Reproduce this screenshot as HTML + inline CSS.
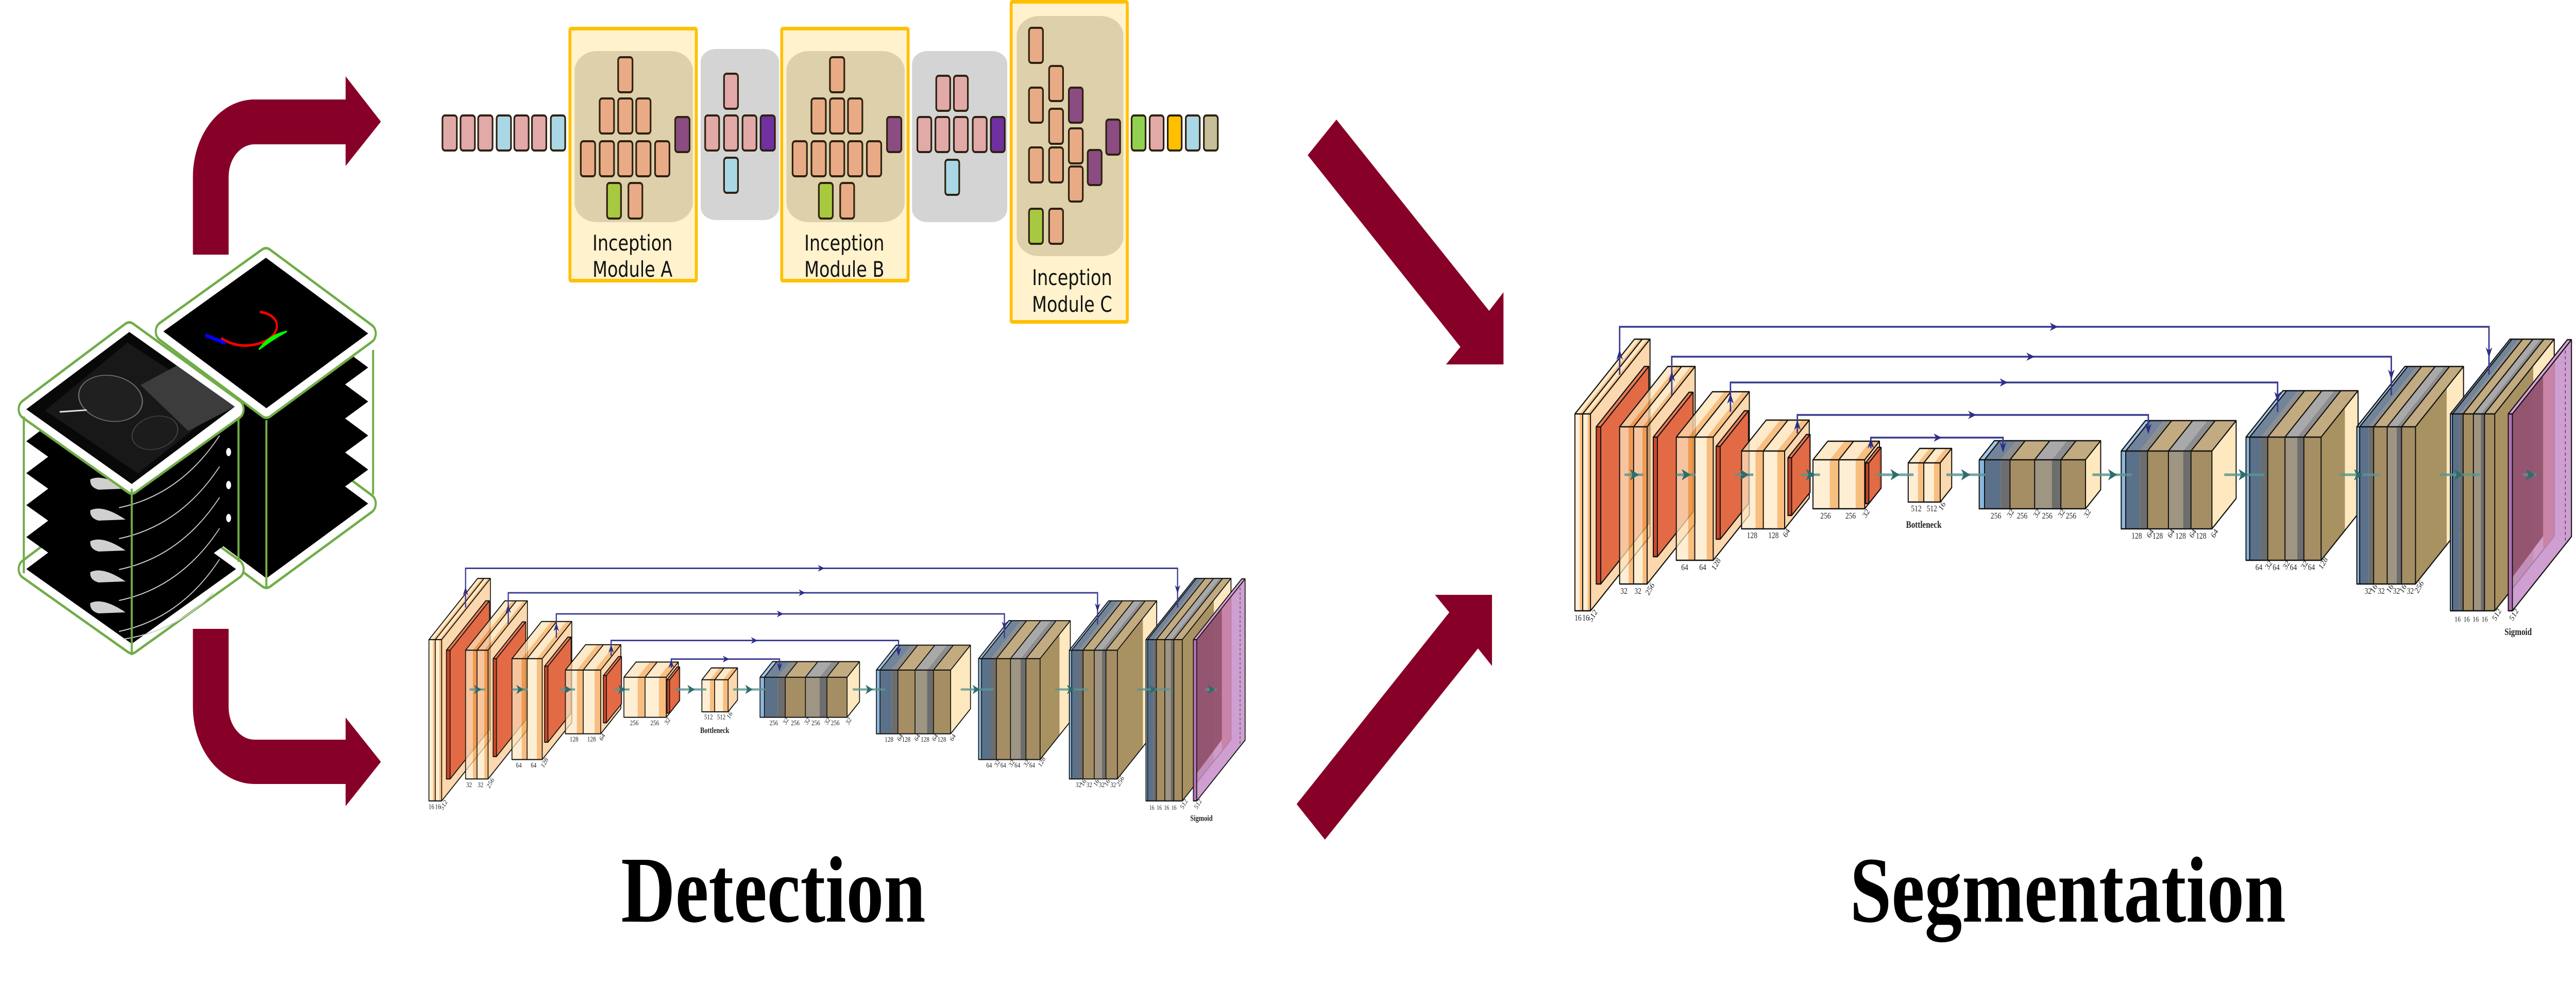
<!DOCTYPE html>
<html>
<head>
<meta charset="utf-8">
<style>
html,body{margin:0;padding:0;background:#fff;width:100%;height:100%;overflow:hidden;}
svg{display:block;width:100vw;height:100vh;position:absolute;left:0;top:0;}
.b{stroke:#2e2210;stroke-width:4;}
.pk{fill:#e2a9a9}.lb{fill:#a9d7e5}.tn{fill:#e9ab86}.gr{fill:#a7c940}.pu{fill:#8b4c82}.vi{fill:#7030a0}.gn{fill:#92d050}.yl{fill:#ffc000}.kh{fill:#c5be98}
.fc{fill:#fde7c3;fill-opacity:.72}.fo{fill:#f6a854;fill-opacity:.75}
.tc{fill:#fde2b5;fill-opacity:.75}.to{fill:#f6a955;fill-opacity:.75}
.s{fill:#f9c88a;fill-opacity:.7}
.ps{fill:#e0623c;fill-opacity:.92}.pt{fill:#e87c58}.pf{fill:#c9482b}
.ol{fill:none;stroke:#111;stroke-width:2.5;stroke-linejoin:round}
.lbF{fill:#8cb6dc}.slF{fill:#5b7189}.dgF{fill:#6d6d6d}.tnF{fill:#a58e63}.gyF{fill:#9e9582}
.lbT{fill:#a3c6e6}.slT{fill:#71849a}.dgT{fill:#8e8e8e}.tnT{fill:#c2ab80}.gyT{fill:#a9a9a9}
.cr{fill:#fde8bf}.ts{fill:#a99262}
.nh{fill:#2e2e88}.th{fill:#2d6d6b}
</style>
</head>
<body>
<svg xmlns="http://www.w3.org/2000/svg" width="6276" height="1942" viewBox="0 0 6276 1942" preserveAspectRatio="none">
<rect width="6276" height="1942" fill="#fff"/>

<!-- ================= CUBES ================= -->
<g>
<polygon points="398,973 648,830 897,977 649,1122" fill="#fff" stroke="#70ad47" stroke-width="42" stroke-linejoin="round"/>
<polygon points="398,973 648,830 897,977 649,1122" fill="#fff" stroke="#fff" stroke-width="32" stroke-linejoin="round"/>
<g fill="#000">
<polygon points="398,973 648,830 897,977 649,1122"/>
<polygon points="398,907 648,764 897,911 649,1056"/>
<polygon points="398,841 648,698 897,845 649,990"/>
<polygon points="398,775 648,632 897,779 649,924"/>
<polygon points="398,709 648,566 897,713 649,858"/>
</g>
<polygon points="398,643 648,500 897,647 649,792" fill="#fff" stroke="#70ad47" stroke-width="42" stroke-linejoin="round"/>
<polygon points="398,643 648,500 897,647 649,792" fill="#fff" stroke="#fff" stroke-width="32" stroke-linejoin="round"/>
<polygon points="398,643 648,500 897,647 649,792" fill="#000"/>
<path d="M633,605 C690,612 685,650 640,664 C600,676 565,670 539,656" fill="none" stroke="#ff0000" stroke-width="5"/>
<path d="M503,651 L546,665" stroke="#0000ff" stroke-width="7" stroke-linecap="round"/>
<path d="M631,678 Q655,650 699,643 Q668,656 631,678Z" fill="#00ff00" stroke="#00ff00" stroke-width="3"/>
<g stroke="#70ad47" stroke-width="5">
<line x1="649" y1="815" x2="649" y2="1141"/>
<line x1="909" y1="679" x2="909" y2="959"/>
</g>
</g>

<g>
<polygon points="64,1104 315,954 575,1104 321,1249" fill="#fff" stroke="#70ad47" stroke-width="42" stroke-linejoin="round"/>
<polygon points="64,1104 315,954 575,1104 321,1249" fill="#fff" stroke="#fff" stroke-width="32" stroke-linejoin="round"/>
<g fill="#000">
<polygon points="64,1104 315,954 575,1104 321,1249"/>
<polygon points="64,1042 315,892 575,1042 321,1187"/>
<polygon points="64,980 315,830 575,980 321,1125"/>
<polygon points="64,918 315,768 575,918 321,1063"/>
<polygon points="64,856 315,706 575,856 321,1001"/>
</g>
<g fill="none" stroke="#cfcfcf" stroke-width="2">
<path d="M290,1225 Q440,1200 535,1085"/>
<path d="M290,1165 Q440,1140 535,1025"/>
<path d="M290,1105 Q440,1080 535,965"/>
<path d="M290,1045 Q440,1020 535,905"/>
<path d="M290,985 Q440,960 535,845"/>
<path d="M300,1240 Q430,1225 520,1150"/>
</g>
<g fill="#d0d0d0">
<path d="M220,930 Q250,918 306,948 L240,950 Q218,945 220,930Z"/>
<path d="M220,990 Q250,978 306,1008 L240,1010 Q218,1005 220,990Z"/>
<path d="M220,1050 Q250,1038 306,1068 L240,1070 Q218,1065 220,1050Z"/>
<path d="M220,1110 Q250,1098 306,1128 L240,1130 Q218,1125 220,1110Z"/>
<path d="M220,1170 Q250,1158 306,1188 L240,1190 Q218,1185 220,1170Z"/>
</g>
<g fill="#fff">
<ellipse cx="557" cy="877" rx="6" ry="8"/>
<ellipse cx="557" cy="941" rx="6" ry="8"/>
<ellipse cx="557" cy="1005" rx="6" ry="8"/>
</g>
<polygon points="64,794 315,644 575,794 321,939" fill="#fff" stroke="#70ad47" stroke-width="42" stroke-linejoin="round"/>
<polygon points="64,794 315,644 575,794 321,939" fill="#fff" stroke="#fff" stroke-width="32" stroke-linejoin="round"/>
<g transform="matrix(2.51,-1.5,2.57,1.45,64,794)">
<rect width="100" height="100" fill="#080808"/>
<path d="M8,10 L92,6 L96,94 L10,96 Z" fill="#181818"/>
<path d="M70,40 L100,45 L100,100 L62,93 Z" fill="#3c3c3c"/>
<ellipse cx="47" cy="34" rx="20" ry="23" fill="#202020" stroke="#6e6e6e" stroke-width="0.8"/>
<ellipse cx="45" cy="78" rx="17" ry="14" fill="#1c1c1c" stroke="#4a4a4a" stroke-width="0.6"/>
<path d="M14,18 L28,30" stroke="#ddd" stroke-width="1.5"/>
</g>
<g stroke="#70ad47" stroke-width="5">
<line x1="58" y1="808" x2="58" y2="1112"/>
<line x1="321" y1="948" x2="321" y2="1271"/>
<line x1="581" y1="810" x2="581" y2="1090"/>
</g>
</g>

<!-- ================= MAROON ARROWS ================= -->
<g fill="#870028">
<path d="M470,494 V343 A150,150 0 0 1 620,193 H842 V148 L928,236 L842,322 V280 H620 A63,63 0 0 0 557,343 V494 Z"/>
<path d="M470,1220 V1371 A150,150 0 0 0 620,1521 H842 V1564 L928,1478 L842,1392 V1435 H620 A63,63 0 0 1 557,1372 V1220 Z"/>
<polygon points="3256,232 3628,603 3663,567 3663,707 3523,707 3558,673 3186,301"/>
<polygon points="3159,1560 3531,1188 3496,1154 3635,1154 3635,1292 3601,1258 3228,1629"/>
</g>

<!-- ================= INCEPTION ================= -->
<g>
<rect class="b pk" x="1078" y="224" width="35" height="68" rx="6"/>
<rect class="b pk" x="1122" y="224" width="35" height="68" rx="6"/>
<rect class="b pk" x="1165" y="224" width="35" height="68" rx="6"/>
<rect class="b lb" x="1210" y="224" width="35" height="68" rx="6"/>
<rect class="b pk" x="1253" y="224" width="35" height="68" rx="6"/>
<rect class="b pk" x="1296" y="224" width="35" height="68" rx="6"/>
<rect class="b lb" x="1342" y="224" width="35" height="68" rx="6"/>

<rect x="1388.5" y="55.5" width="308" height="489" rx="3" fill="#fff2cc" stroke="#ffc000" stroke-width="7"/>
<rect x="1400" y="99" width="288" height="332" rx="55" ry="38" fill="#ddd0aa"/>
<rect class="b tn" x="1506" y="111" width="35" height="68" rx="6"/>
<rect class="b tn" x="1461" y="191" width="35" height="68" rx="6"/>
<rect class="b tn" x="1506" y="191" width="35" height="68" rx="6"/>
<rect class="b tn" x="1550" y="191" width="35" height="68" rx="6"/>
<rect class="b tn" x="1415" y="274" width="35" height="68" rx="6"/>
<rect class="b tn" x="1461" y="274" width="35" height="68" rx="6"/>
<rect class="b tn" x="1506" y="274" width="35" height="68" rx="6"/>
<rect class="b tn" x="1550" y="274" width="35" height="68" rx="6"/>
<rect class="b tn" x="1596" y="274" width="35" height="68" rx="6"/>
<rect class="b gr" x="1479" y="355" width="34" height="69" rx="6"/>
<rect class="b tn" x="1531" y="355" width="34" height="69" rx="6"/>
<rect class="b pu" x="1645" y="227" width="35" height="68" rx="6"/>
<text x="1541" y="486" font-family="DejaVu Sans, sans-serif" font-size="42" text-anchor="middle" fill="#111">Inception</text>
<text x="1541" y="537" font-family="DejaVu Sans, sans-serif" font-size="42" text-anchor="middle" fill="#111">Module A</text>

<rect x="1707" y="95" width="191" height="332" rx="38" ry="25" fill="#d4d4d4"/>
<rect class="b pk" x="1764" y="143" width="34" height="68" rx="6"/>
<rect class="b pk" x="1718" y="224" width="34" height="68" rx="6"/>
<rect class="b pk" x="1764" y="224" width="34" height="68" rx="6"/>
<rect class="b pk" x="1809" y="224" width="34" height="68" rx="6"/>
<rect class="b vi" x="1853" y="224" width="35" height="68" rx="6"/>
<rect class="b lb" x="1764" y="306" width="34" height="68" rx="6"/>

<rect x="1904.5" y="55.5" width="308" height="489" rx="3" fill="#fff2cc" stroke="#ffc000" stroke-width="7"/>
<rect x="1916" y="99" width="288" height="332" rx="55" ry="38" fill="#ddd0aa"/>
<rect class="b tn" x="2022" y="111" width="35" height="68" rx="6"/>
<rect class="b tn" x="1977" y="191" width="35" height="68" rx="6"/>
<rect class="b tn" x="2022" y="191" width="35" height="68" rx="6"/>
<rect class="b tn" x="2066" y="191" width="35" height="68" rx="6"/>
<rect class="b tn" x="1931" y="274" width="35" height="68" rx="6"/>
<rect class="b tn" x="1977" y="274" width="35" height="68" rx="6"/>
<rect class="b tn" x="2022" y="274" width="35" height="68" rx="6"/>
<rect class="b tn" x="2066" y="274" width="35" height="68" rx="6"/>
<rect class="b tn" x="2112" y="274" width="35" height="68" rx="6"/>
<rect class="b gr" x="1995" y="355" width="34" height="69" rx="6"/>
<rect class="b tn" x="2047" y="355" width="34" height="69" rx="6"/>
<rect class="b pu" x="2161" y="227" width="35" height="68" rx="6"/>
<text x="2057" y="486" font-family="DejaVu Sans, sans-serif" font-size="42" text-anchor="middle" fill="#111">Inception</text>
<text x="2057" y="537" font-family="DejaVu Sans, sans-serif" font-size="42" text-anchor="middle" fill="#111">Module B</text>

<rect x="2222" y="99" width="232" height="332" rx="38" ry="25" fill="#d4d4d4"/>
<rect class="b pk" x="2281" y="147" width="34" height="68" rx="6"/>
<rect class="b pk" x="2324" y="147" width="34" height="68" rx="6"/>
<rect class="b pk" x="2235" y="227" width="34" height="68" rx="6"/>
<rect class="b pk" x="2279" y="227" width="34" height="68" rx="6"/>
<rect class="b pk" x="2324" y="227" width="34" height="68" rx="6"/>
<rect class="b pk" x="2370" y="227" width="34" height="68" rx="6"/>
<rect class="b vi" x="2414" y="227" width="34" height="68" rx="6"/>
<rect class="b lb" x="2303" y="310" width="34" height="68" rx="6"/>

<rect x="2463.5" y="3.5" width="283" height="621" rx="3" fill="#fff2cc" stroke="#ffc000" stroke-width="7"/>
<rect x="2477" y="31" width="260" height="466" rx="55" ry="38" fill="#ddd0aa"/>
<rect class="b tn" x="2507" y="54" width="34" height="68" rx="6"/>
<rect class="b tn" x="2507" y="170" width="34" height="68" rx="6"/>
<rect class="b tn" x="2507" y="286" width="34" height="68" rx="6"/>
<rect class="b gr" x="2507" y="405" width="34" height="68" rx="6"/>
<rect class="b tn" x="2556" y="128" width="34" height="68" rx="6"/>
<rect class="b tn" x="2556" y="211" width="34" height="68" rx="6"/>
<rect class="b tn" x="2556" y="286" width="34" height="68" rx="6"/>
<rect class="b tn" x="2556" y="405" width="34" height="68" rx="6"/>
<rect class="b pu" x="2604" y="170" width="34" height="68" rx="6"/>
<rect class="b tn" x="2604" y="249" width="34" height="68" rx="6"/>
<rect class="b tn" x="2604" y="323" width="34" height="68" rx="6"/>
<rect class="b pu" x="2650" y="291" width="34" height="68" rx="6"/>
<rect class="b pu" x="2695" y="232" width="34" height="68" rx="6"/>
<text x="2612" y="553" font-family="DejaVu Sans, sans-serif" font-size="42" text-anchor="middle" fill="#111">Inception</text>
<text x="2612" y="605" font-family="DejaVu Sans, sans-serif" font-size="42" text-anchor="middle" fill="#111">Module C</text>

<rect class="b gn" x="2757" y="224" width="34" height="68" rx="6"/>
<rect class="b pk" x="2801" y="224" width="34" height="68" rx="6"/>
<rect class="b yl" x="2845" y="224" width="34" height="68" rx="6"/>
<rect class="b lb" x="2889" y="224" width="34" height="68" rx="6"/>
<rect class="b kh" x="2933" y="224" width="34" height="68" rx="6"/>
</g>

<!-- ================= U-NET (right, full size) ================= -->
<g id="unet">
<polygon class="s" points="3875,803 4020,658 4020,1040 3875,1185"/>
<polygon class="tc" points="3837,803 3849,803 3994,658 3982,658"/>
<polygon class="to" points="3849,803 3856,803 4001,658 3994,658"/>
<polygon class="tc" points="3856,803 3868,803 4013,658 4001,658"/>
<polygon class="to" points="3868,803 3875,803 4020,658 4013,658"/>
<rect class="fc" x="3837" y="803" width="12" height="382"/>
<rect class="fo" x="3849" y="803" width="7" height="382"/>
<rect class="fc" x="3856" y="803" width="12" height="382"/>
<rect class="fo" x="3868" y="803" width="7" height="382"/>
<path class="ol" d="M3837,803 H3875 V1185 H3837 Z M3837,803 L3982,658 H4020 L3875,803 M4020,658 V1040 L3875,1185 M3856,803 V1185 M3856,803 L4001,658"/>
<polygon class="ps" points="3900,828 4017,711 4017,1016 3900,1133"/>
<polygon class="pt" points="3889,828 3900,828 4017,711 4006,711"/>
<rect class="pf" x="3889" y="828" width="11" height="305"/>
<path class="ol" d="M3889,828 H3900 V1133 H3889 Z M3889,828 L4006,711 H4017 L3900,828 M4017,711 V1016 L3900,1133"/>
<polygon class="s" points="4013,828 4130,711 4130,1016 4013,1133"/>
<polygon class="tc" points="3946,828 3968,828 4085,711 4063,711"/>
<polygon class="to" points="3968,828 3980,828 4097,711 4085,711"/>
<polygon class="tc" points="3980,828 4002,828 4119,711 4097,711"/>
<polygon class="to" points="4002,828 4013,828 4130,711 4119,711"/>
<rect class="fc" x="3946" y="828" width="22" height="305"/>
<rect class="fo" x="3968" y="828" width="12" height="305"/>
<rect class="fc" x="3980" y="828" width="22" height="305"/>
<rect class="fo" x="4002" y="828" width="11" height="305"/>
<path class="ol" d="M3946,828 H4013 V1133 H3946 Z M3946,828 L4063,711 H4130 L4013,828 M4130,711 V1016 L4013,1133 M3980,828 V1133 M3980,828 L4097,711"/>
<polygon class="ps" points="4038,848 4125,761 4125,993 4038,1080"/>
<polygon class="pt" points="4028,848 4038,848 4125,761 4115,761"/>
<rect class="pf" x="4028" y="848" width="10" height="232"/>
<path class="ol" d="M4028,848 H4038 V1080 H4028 Z M4028,848 L4115,761 H4125 L4038,848 M4125,761 V993 L4038,1080"/>
<polygon class="s" points="4174,848 4262,760 4262,999 4174,1087"/>
<polygon class="tc" points="4084,848 4113,848 4201,760 4172,760"/>
<polygon class="to" points="4113,848 4129,848 4217,760 4201,760"/>
<polygon class="tc" points="4129,848 4158,848 4246,760 4217,760"/>
<polygon class="to" points="4158,848 4174,848 4262,760 4246,760"/>
<rect class="fc" x="4084" y="848" width="29" height="239"/>
<rect class="fo" x="4113" y="848" width="16" height="239"/>
<rect class="fc" x="4129" y="848" width="29" height="239"/>
<rect class="fo" x="4158" y="848" width="16" height="239"/>
<path class="ol" d="M4084,848 H4174 V1087 H4084 Z M4084,848 L4172,760 H4262 L4174,848 M4262,760 V999 L4174,1087 M4129,848 V1087 M4129,848 L4217,760"/>
<polygon class="ps" points="4191,866 4260,797 4260,977 4191,1046"/>
<polygon class="pt" points="4181,866 4191,866 4260,797 4250,797"/>
<rect class="pf" x="4181" y="866" width="10" height="180"/>
<path class="ol" d="M4181,866 H4191 V1046 H4181 Z M4181,866 L4250,797 H4260 L4191,866 M4260,797 V977 L4191,1046"/>
<polygon class="s" points="4348,875 4408,815 4408,966 4348,1026"/>
<polygon class="tc" points="4243,875 4277,875 4337,815 4303,815"/>
<polygon class="to" points="4277,875 4296,875 4356,815 4337,815"/>
<polygon class="tc" points="4296,875 4330,875 4390,815 4356,815"/>
<polygon class="to" points="4330,875 4348,875 4408,815 4390,815"/>
<rect class="fc" x="4243" y="875" width="34" height="151"/>
<rect class="fo" x="4277" y="875" width="19" height="151"/>
<rect class="fc" x="4296" y="875" width="34" height="151"/>
<rect class="fo" x="4330" y="875" width="18" height="151"/>
<path class="ol" d="M4243,875 H4348 V1026 H4243 Z M4243,875 L4303,815 H4408 L4348,875 M4408,815 V966 L4348,1026 M4296,875 V1026 M4296,875 L4356,815"/>
<polygon class="ps" points="4365,888 4410,843 4410,955 4365,1000"/>
<polygon class="pt" points="4356,888 4365,888 4410,843 4401,843"/>
<rect class="pf" x="4356" y="888" width="9" height="112"/>
<path class="ol" d="M4356,888 H4365 V1000 H4356 Z M4356,888 L4401,843 H4410 L4365,888 M4410,843 V955 L4365,1000"/>
<polygon class="s" points="4543,892 4579,856 4579,951 4543,987"/>
<polygon class="tc" points="4417,892 4458,892 4494,856 4453,856"/>
<polygon class="to" points="4458,892 4480,892 4516,856 4494,856"/>
<polygon class="tc" points="4480,892 4521,892 4557,856 4516,856"/>
<polygon class="to" points="4521,892 4543,892 4579,856 4557,856"/>
<rect class="fc" x="4417" y="892" width="41" height="95"/>
<rect class="fo" x="4458" y="892" width="22" height="95"/>
<rect class="fc" x="4480" y="892" width="41" height="95"/>
<rect class="fo" x="4521" y="892" width="22" height="95"/>
<path class="ol" d="M4417,892 H4543 V987 H4417 Z M4417,892 L4453,856 H4579 L4543,892 M4579,856 V951 L4543,987 M4480,892 V987 M4480,892 L4516,856"/>
<polygon class="ps" points="4553,898 4583,868 4583,947 4553,977"/>
<polygon class="pt" points="4545,898 4553,898 4583,868 4575,868"/>
<rect class="pf" x="4545" y="898" width="8" height="79"/>
<path class="ol" d="M4545,898 H4553 V977 H4545 Z M4545,898 L4575,868 H4583 L4553,898 M4583,868 V947 L4553,977"/>
<polygon class="s" points="4727,898 4755,870 4755,946 4727,974"/>
<polygon class="tc" points="4649,898 4673,898 4701,870 4677,870"/>
<polygon class="to" points="4673,898 4687,898 4715,870 4701,870"/>
<polygon class="tc" points="4687,898 4712,898 4740,870 4715,870"/>
<polygon class="to" points="4712,898 4727,898 4755,870 4740,870"/>
<rect class="fc" x="4649" y="898" width="24" height="76"/>
<rect class="fo" x="4673" y="898" width="14" height="76"/>
<rect class="fc" x="4687" y="898" width="25" height="76"/>
<rect class="fo" x="4712" y="898" width="15" height="76"/>
<path class="ol" d="M4649,898 H4727 V974 H4649 Z M4649,898 L4677,870 H4755 L4727,898 M4755,870 V946 L4727,974 M4687,898 V974 M4687,898 L4715,870"/>

<polygon class="cr" points="5081,892 5118,855 5118,950 5081,987"/>
<polygon class="lbT" points="4822,892 4835,892 4872,855 4859,855"/>
<polygon class="slT" points="4835,892 4875,892 4912,855 4872,855"/>
<polygon class="dgT" points="4875,892 4897,892 4934,855 4912,855"/>
<polygon class="tnT" points="4897,892 4957,892 4994,855 4934,855"/>
<polygon class="gyT" points="4957,892 4999,892 5036,855 4994,855"/>
<polygon class="dgT" points="4999,892 5021,892 5058,855 5036,855"/>
<polygon class="tnT" points="5021,892 5081,892 5118,855 5058,855"/>
<rect class="lbF" x="4822" y="892" width="13" height="95"/>
<rect class="slF" x="4835" y="892" width="40" height="95"/>
<rect class="dgF" x="4875" y="892" width="22" height="95"/>
<rect class="tnF" x="4897" y="892" width="60" height="95"/>
<rect class="gyF" x="4957" y="892" width="42" height="95"/>
<rect class="dgF" x="4999" y="892" width="22" height="95"/>
<rect class="tnF" x="5021" y="892" width="60" height="95"/>
<path class="ol" d="M4822,892 H5081 V987 H4822 Z M4822,892 L4859,855 H5118 L5081,892 M5118,855 V950 L5081,987 M4835,892 V987 M4835,892 L4872,855 M4897,892 V987 M4897,892 L4934,855 M4957,892 V987 M4957,892 L4994,855 M5021,892 V987 M5021,892 L5058,855"/>
<polygon class="cr" points="5389,875 5448,816 5448,967 5389,1026"/>
<polygon class="lbT" points="5168,875 5179,875 5238,816 5227,816"/>
<polygon class="slT" points="5179,875 5213,875 5272,816 5238,816"/>
<polygon class="dgT" points="5213,875 5232,875 5291,816 5272,816"/>
<polygon class="tnT" points="5232,875 5283,875 5342,816 5291,816"/>
<polygon class="gyT" points="5283,875 5319,875 5378,816 5342,816"/>
<polygon class="dgT" points="5319,875 5338,875 5397,816 5378,816"/>
<polygon class="tnT" points="5338,875 5389,875 5448,816 5397,816"/>
<rect class="lbF" x="5168" y="875" width="11" height="151"/>
<rect class="slF" x="5179" y="875" width="34" height="151"/>
<rect class="dgF" x="5213" y="875" width="19" height="151"/>
<rect class="tnF" x="5232" y="875" width="51" height="151"/>
<rect class="gyF" x="5283" y="875" width="36" height="151"/>
<rect class="dgF" x="5319" y="875" width="19" height="151"/>
<rect class="tnF" x="5338" y="875" width="51" height="151"/>
<path class="ol" d="M5168,875 H5389 V1026 H5168 Z M5168,875 L5227,816 H5448 L5389,875 M5448,816 V967 L5389,1026 M5179,875 V1026 M5179,875 L5238,816 M5232,875 V1026 M5232,875 L5291,816 M5283,875 V1026 M5283,875 L5342,816 M5338,875 V1026 M5338,875 L5397,816"/>
<polygon class="ts" points="5655,848 5713,790 5713,1029 5655,1087"/>
<polygon class="cr" points="5713,790 5745,758 5745,997 5713,1029"/>
<polygon class="lbT" points="5472,848 5481,848 5571,758 5562,758"/>
<polygon class="slT" points="5481,848 5509,848 5599,758 5571,758"/>
<polygon class="dgT" points="5509,848 5525,848 5615,758 5599,758"/>
<polygon class="tnT" points="5525,848 5567,848 5657,758 5615,758"/>
<polygon class="gyT" points="5567,848 5597,848 5687,758 5657,758"/>
<polygon class="dgT" points="5597,848 5613,848 5703,758 5687,758"/>
<polygon class="tnT" points="5613,848 5655,848 5745,758 5703,758"/>
<rect class="lbF" x="5472" y="848" width="9" height="239"/>
<rect class="slF" x="5481" y="848" width="28" height="239"/>
<rect class="dgF" x="5509" y="848" width="16" height="239"/>
<rect class="tnF" x="5525" y="848" width="42" height="239"/>
<rect class="gyF" x="5567" y="848" width="30" height="239"/>
<rect class="dgF" x="5597" y="848" width="16" height="239"/>
<rect class="tnF" x="5613" y="848" width="42" height="239"/>
<path class="ol" d="M5472,848 H5655 V1087 H5472 Z M5472,848 L5562,758 H5745 L5655,848 M5745,758 V997 L5655,1087 M5481,848 V1087 M5481,848 L5571,758 M5525,848 V1087 M5525,848 L5615,758 M5567,848 V1087 M5567,848 L5657,758 M5613,848 V1087 M5613,848 L5703,758"/>
<polygon class="ts" points="5885,828 5961,752 5961,1057 5885,1133"/>
<polygon class="cr" points="5961,752 6002,711 6002,1016 5961,1057"/>
<polygon class="lbT" points="5742,828 5749,828 5866,711 5859,711"/>
<polygon class="slT" points="5749,828 5771,828 5888,711 5866,711"/>
<polygon class="dgT" points="5771,828 5783,828 5900,711 5888,711"/>
<polygon class="tnT" points="5783,828 5816,828 5933,711 5900,711"/>
<polygon class="gyT" points="5816,828 5839,828 5956,711 5933,711"/>
<polygon class="dgT" points="5839,828 5851,828 5968,711 5956,711"/>
<polygon class="tnT" points="5851,828 5885,828 6002,711 5968,711"/>
<rect class="lbF" x="5742" y="828" width="7" height="305"/>
<rect class="slF" x="5749" y="828" width="22" height="305"/>
<rect class="dgF" x="5771" y="828" width="12" height="305"/>
<rect class="tnF" x="5783" y="828" width="33" height="305"/>
<rect class="gyF" x="5816" y="828" width="23" height="305"/>
<rect class="dgF" x="5839" y="828" width="12" height="305"/>
<rect class="tnF" x="5851" y="828" width="34" height="305"/>
<path class="ol" d="M5742,828 H5885 V1133 H5742 Z M5742,828 L5859,711 H6002 L5885,828 M6002,711 V1016 L5885,1133 M5749,828 V1133 M5749,828 L5866,711 M5783,828 V1133 M5783,828 L5900,711 M5816,828 V1133 M5816,828 L5933,711 M5851,828 V1133 M5851,828 L5968,711"/>
<polygon class="ts" points="6078,803 6172,709 6172,1091 6078,1185"/>
<polygon class="cr" points="6172,709 6223,658 6223,1040 6172,1091"/>
<polygon class="lbT" points="5970,803 5975,803 6120,658 6115,658"/>
<polygon class="slT" points="5975,803 5992,803 6137,658 6120,658"/>
<polygon class="dgT" points="5992,803 6001,803 6146,658 6137,658"/>
<polygon class="tnT" points="6001,803 6026,803 6171,658 6146,658"/>
<polygon class="gyT" points="6026,803 6044,803 6189,658 6171,658"/>
<polygon class="dgT" points="6044,803 6053,803 6198,658 6189,658"/>
<polygon class="tnT" points="6053,803 6078,803 6223,658 6198,658"/>
<rect class="lbF" x="5970" y="803" width="5" height="382"/>
<rect class="slF" x="5975" y="803" width="17" height="382"/>
<rect class="dgF" x="5992" y="803" width="9" height="382"/>
<rect class="tnF" x="6001" y="803" width="25" height="382"/>
<rect class="gyF" x="6026" y="803" width="18" height="382"/>
<rect class="dgF" x="6044" y="803" width="9" height="382"/>
<rect class="tnF" x="6053" y="803" width="25" height="382"/>
<path class="ol" d="M5970,803 H6078 V1185 H5970 Z M5970,803 L6115,658 H6223 L6078,803 M6223,658 V1040 L6078,1185 M5975,803 V1185 M5975,803 L6120,658 M6001,803 V1185 M6001,803 L6146,658 M6026,803 V1185 M6026,803 L6171,658 M6053,803 V1185 M6053,803 L6198,658"/>
<polygon points="6121,803 6265,659 6265,1041 6121,1185" fill="#c68ec8" fill-opacity=".85"/>
<polygon points="6121,803 6196,728 6196,1040 6121,1120" fill="#8c4b63" fill-opacity=".85"/>
<polygon points="6196,728 6223,700 6223,1040 6196,1068" fill="#c77f9f" fill-opacity=".8"/>
<polygon points="6111,803 6121,803 6265,659 6255,659" fill="#d7a3d8"/>
<rect x="6111" y="803" width="10" height="382" fill="#b273b4"/>
<path class="ol" d="M6111,803 H6121 V1185 H6111 Z M6111,803 L6255,659 H6265 L6121,803 M6265,659 V1041 L6121,1185"/>
<line x1="6250" y1="680" x2="6250" y2="1050" stroke="#333" stroke-width="1.5" stroke-dasharray="6,5"/>

<g fill="none" stroke="#3a3a90" stroke-width="3.5">
<path d="M3946,727 V634 H6064 V727"/>
<path d="M4073,767 V692 H5826 V767"/>
<path d="M4216,799 V742 H5549 V799"/>
<path d="M4379,841 V805 H5234 V836"/>
<path d="M4558,870 V849 H4880 V872"/>
</g>
<g class="nh">
<polygon points="3946,678 3938,698 3946,692 3954,698"/>
<polygon points="5014,634 4994,626 5000,634 4994,642"/>
<polygon points="6064,694 6056,674 6064,680 6072,674"/>
<polygon points="4073,720 4065,740 4073,734 4081,740"/>
<polygon points="4957,692 4937,684 4943,692 4937,700"/>
<polygon points="5826,737 5818,717 5826,723 5834,717"/>
<polygon points="4216,763 4208,783 4216,777 4224,783"/>
<polygon points="4892,742 4872,734 4878,742 4872,750"/>
<polygon points="5549,780 5541,760 5549,766 5557,760"/>
<polygon points="4379,814 4371,834 4379,828 4387,834"/>
<polygon points="4815,805 4795,797 4801,805 4795,813"/>
<polygon points="5234,842 5226,822 5234,828 5242,822"/>
<polygon points="4558,850 4550,870 4558,864 4566,870"/>
<polygon points="4731,849 4711,841 4717,849 4711,857"/>
<polygon points="4880,878 4872,858 4880,864 4888,858"/>
</g>
<g stroke="#5b9592" stroke-width="5" stroke-opacity=".85">
<line x1="3958" y1="921" x2="4004" y2="921"/>
<line x1="4084" y1="921" x2="4130" y2="921"/>
<line x1="4226" y1="921" x2="4272" y2="921"/>
<line x1="4388" y1="921" x2="4434" y2="921"/>
<line x1="4570" y1="921" x2="4662" y2="921"/>
<line x1="4742" y1="921" x2="4838" y2="921"/>
<line x1="5098" y1="921" x2="5195" y2="921"/>
<line x1="5419" y1="921" x2="5517" y2="921"/>
<line x1="5700" y1="921" x2="5798" y2="921"/>
<line x1="5944" y1="921" x2="6042" y2="921"/>
<line x1="6147" y1="921" x2="6180" y2="921"/>
</g>
<g class="th">
<polygon points="3993,921 3971,910 3977,921 3971,932"/>
<polygon points="4119,921 4097,910 4103,921 4097,932"/>
<polygon points="4261,921 4239,910 4245,921 4239,932"/>
<polygon points="4422,921 4400,910 4406,921 4400,932"/>
<polygon points="4628,921 4606,910 4612,921 4606,932"/>
<polygon points="4800,921 4778,910 4784,921 4778,932"/>
<polygon points="5158,921 5136,910 5142,921 5136,932"/>
<polygon points="5476,921 5454,910 5460,921 5454,932"/>
<polygon points="5757,921 5735,910 5741,921 5735,932"/>
<polygon points="6001,921 5979,910 5985,921 5979,932"/>
<polygon points="6176,921 6154,910 6160,921 6154,932"/>
</g>
</g>

<g font-family="Liberation Serif, serif" font-size="17" fill="#222">
<text x="3836" y="1204">16</text><text x="3855" y="1204">16</text><text transform="translate(3878,1208) rotate(-55)">512</text>
<text x="3948" y="1152">32</text><text x="3982" y="1152">32</text><text transform="translate(4017,1156) rotate(-55)">256</text>
<text x="4096" y="1106">64</text><text x="4140" y="1106">64</text><text transform="translate(4178,1108) rotate(-55)">128</text>
<text x="4256" y="1044">128</text><text x="4308" y="1044">128</text><text transform="translate(4352,1044) rotate(-55)">64</text>
<text x="4435" y="1006">256</text><text x="4496" y="1006">256</text><text transform="translate(4546,1006) rotate(-55)">32</text>
<text x="4656" y="992">512</text><text x="4694" y="992">512</text><text transform="translate(4731,992) rotate(-55)">16</text>
<text x="4687" y="1024" text-anchor="middle" font-weight="bold" font-size="19">Bottleneck</text>
<text x="4850" y="1006">256</text><text transform="translate(4898,1006) rotate(-55)">32</text><text x="4914" y="1006">256</text><text transform="translate(4962,1006) rotate(-55)">32</text><text x="4975" y="1006">256</text><text transform="translate(5022,1006) rotate(-55)">32</text><text x="5033" y="1006">256</text><text transform="translate(5085,1006) rotate(-55)">32</text>
<text x="5193" y="1045">128</text><text transform="translate(5238,1045) rotate(-55)">64</text><text x="5244" y="1045">128</text><text transform="translate(5289,1045) rotate(-55)">64</text><text x="5300" y="1045">128</text><text transform="translate(5342,1045) rotate(-55)">64</text><text x="5350" y="1045">128</text><text transform="translate(5395,1045) rotate(-55)">64</text>
<text x="5495" y="1106">64</text><text transform="translate(5527,1106) rotate(-55)">32</text><text x="5537" y="1106">64</text><text transform="translate(5570,1106) rotate(-55)">32</text><text x="5579" y="1106">64</text><text transform="translate(5614,1106) rotate(-55)">32</text><text x="5623" y="1106">64</text><text transform="translate(5657,1106) rotate(-55)">128</text>
<text x="5761" y="1152">32</text><text transform="translate(5783,1152) rotate(-55)">16</text><text x="5793" y="1152">32</text><text transform="translate(5822,1152) rotate(-55)">16</text><text x="5830" y="1152">32</text><text transform="translate(5854,1152) rotate(-55)">16</text><text x="5864" y="1152">32</text><text transform="translate(5891,1152) rotate(-55)">256</text>
<text x="5980" y="1206" font-size="15">16</text><text x="6002" y="1206" font-size="15">16</text><text x="6024" y="1206" font-size="15">16</text><text x="6046" y="1206" font-size="15">16</text><text transform="translate(6080,1206) rotate(-55)">512</text>
<text transform="translate(6122,1206) rotate(-55)">512</text>
<text x="6135" y="1232" text-anchor="middle" font-weight="bold" font-size="19">Sigmoid</text>
</g>

<!-- ================= U-NET (bottom, detection) ================= -->
<g transform="matrix(0.819 0 0 0.819 -2097.5 583.3)">
<use href="#unet"/>
<g font-family="Liberation Serif, serif" font-size="17" fill="#222">
<text x="3836" y="1204">16</text><text x="3855" y="1204">16</text><text transform="translate(3878,1208) rotate(-55)">512</text>
<text x="3948" y="1152">32</text><text x="3982" y="1152">32</text><text transform="translate(4017,1156) rotate(-55)">256</text>
<text x="4096" y="1106">64</text><text x="4140" y="1106">64</text><text transform="translate(4178,1108) rotate(-55)">128</text>
<text x="4256" y="1044">128</text><text x="4308" y="1044">128</text><text transform="translate(4352,1044) rotate(-55)">64</text>
<text x="4435" y="1006">256</text><text x="4496" y="1006">256</text><text transform="translate(4546,1006) rotate(-55)">32</text>
<text x="4656" y="992">512</text><text x="4694" y="992">512</text><text transform="translate(4731,992) rotate(-55)">16</text>
<text x="4687" y="1024" text-anchor="middle" font-weight="bold" font-size="19">Bottleneck</text>
<text x="4850" y="1006">256</text><text transform="translate(4898,1006) rotate(-55)">32</text><text x="4914" y="1006">256</text><text transform="translate(4962,1006) rotate(-55)">32</text><text x="4975" y="1006">256</text><text transform="translate(5022,1006) rotate(-55)">32</text><text x="5033" y="1006">256</text><text transform="translate(5085,1006) rotate(-55)">32</text>
<text x="5193" y="1045">128</text><text transform="translate(5238,1045) rotate(-55)">64</text><text x="5244" y="1045">128</text><text transform="translate(5289,1045) rotate(-55)">64</text><text x="5300" y="1045">128</text><text transform="translate(5342,1045) rotate(-55)">64</text><text x="5350" y="1045">128</text><text transform="translate(5395,1045) rotate(-55)">64</text>
<text x="5495" y="1106">64</text><text transform="translate(5527,1106) rotate(-55)">32</text><text x="5537" y="1106">64</text><text transform="translate(5570,1106) rotate(-55)">32</text><text x="5579" y="1106">64</text><text transform="translate(5614,1106) rotate(-55)">32</text><text x="5623" y="1106">64</text><text transform="translate(5657,1106) rotate(-55)">128</text>
<text x="5761" y="1152">32</text><text transform="translate(5783,1152) rotate(-55)">16</text><text x="5793" y="1152">32</text><text transform="translate(5822,1152) rotate(-55)">16</text><text x="5830" y="1152">32</text><text transform="translate(5854,1152) rotate(-55)">16</text><text x="5864" y="1152">32</text><text transform="translate(5891,1152) rotate(-55)">256</text>
<text x="5980" y="1206" font-size="15">16</text><text x="6002" y="1206" font-size="15">16</text><text x="6024" y="1206" font-size="15">16</text><text x="6046" y="1206" font-size="15">16</text><text transform="translate(6080,1206) rotate(-55)">512</text>
<text transform="translate(6122,1206) rotate(-55)">512</text>
<text x="6135" y="1232" text-anchor="middle" font-weight="bold" font-size="19">Sigmoid</text>
</g>
</g>

<!-- ================= TITLES ================= -->
<text x="1513" y="1788" font-family="Liberation Serif, serif" font-weight="bold" font-size="183" fill="#000" textLength="742" lengthAdjust="spacingAndGlyphs">Detection</text>
<text x="4507" y="1788" font-family="Liberation Serif, serif" font-weight="bold" font-size="182" fill="#000" textLength="1062" lengthAdjust="spacingAndGlyphs">Segmentation</text>
</svg>
</body>
</html>
